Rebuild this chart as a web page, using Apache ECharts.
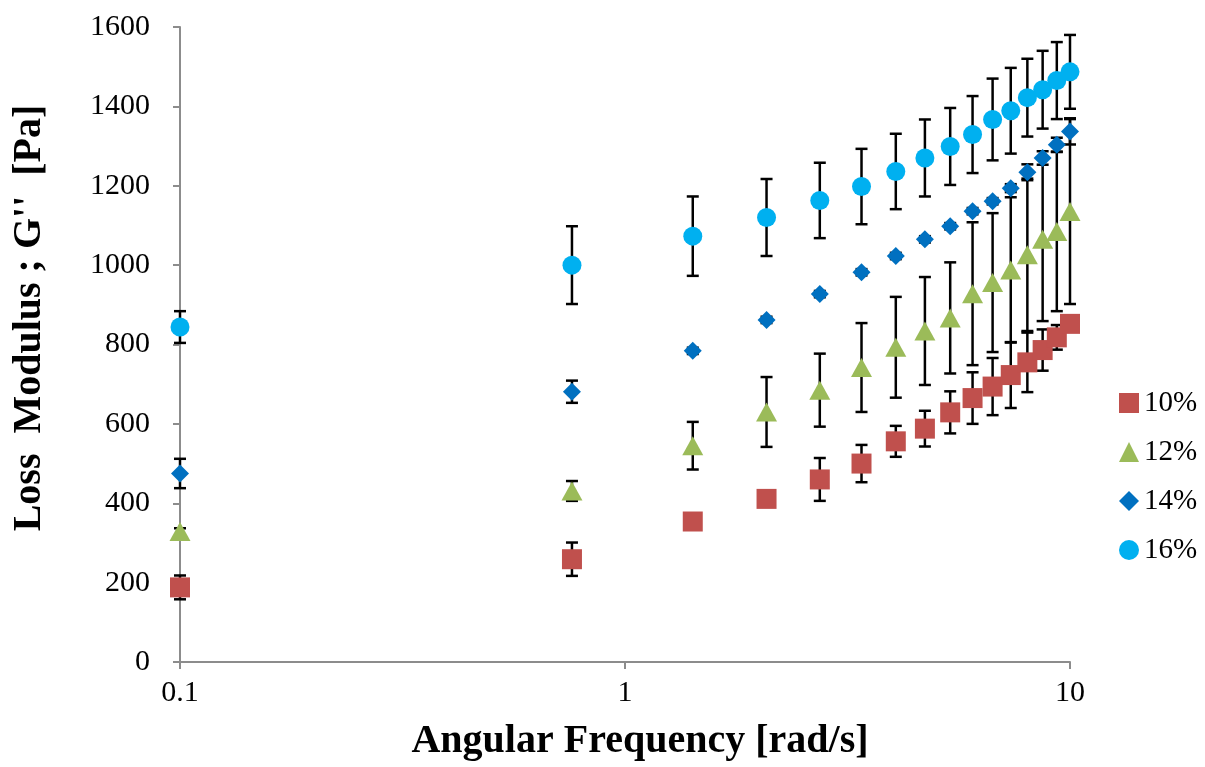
<!DOCTYPE html>
<html>
<head>
<meta charset="utf-8">
<script src="https://cdn.jsdelivr.net/npm/echarts@6/dist/echarts.min.js"></script>
<style>
  html, body { margin: 0; padding: 0; background: #ffffff; }
  #chart { width: 1205px; height: 767px; }
</style>
</head>
<body>
<div id="chart"></div>
<script>
  // angular frequency sweep [rad/s]
  var freq = [0.1, 0.76, 1.42, 2.08, 2.74, 3.4, 4.06, 4.72, 5.38, 6.04, 6.7, 7.36, 8.02, 8.68, 9.34, 10];

  // loss modulus G'' [Pa] and error (+/-) for each concentration
  var g10 = [188, 259, 354, 411, 460, 500, 556, 588, 629, 665, 694, 723, 755, 786, 818, 852];
  var e10 = [30, 42, 10, 8, 54, 47, 39, 45, 53, 65, 72, 83, 75, 52, 31, 10];

  var g12 = [329, 431, 545, 630, 685, 742, 793, 834, 867, 928, 956, 988, 1026, 1065, 1085, 1135];
  var e12 = [8, 25, 60, 88, 92, 112, 127, 136, 140, 180, 175, 183, 192, 206, 201, 233];

  var g14 = [475, 681, 784, 862, 927, 982, 1023, 1065, 1098, 1136, 1161, 1194, 1234, 1270, 1303, 1337];
  var e14 = [37, 28, 8, 8, 8, 8, 8, 8, 8, 8, 8, 10, 20, 17, 18, 33];

  var g16 = [844, 1000, 1073, 1120, 1163, 1198, 1236, 1270, 1299, 1329, 1367, 1389, 1422, 1442, 1465, 1487];
  var e16 = [40, 98, 100, 97, 95, 95, 95, 97, 97, 97, 103, 108, 98, 98, 97, 93];

  var seriesNames = ["10%", "12%", "14%", "16%"];
  var yTicks = [0, 200, 400, 600, 800, 1000, 1200, 1400, 1600];

  var FONT = "'Liberation Serif', 'Times New Roman', serif";
  var AXIS_GRAY = "#8c8c8c";

  function pts(g) {
    return freq.map(function (f, i) { return [f, g[i]]; });
  }
  function errPts(g, e) {
    return freq.map(function (f, i) { return [f, g[i], e[i]]; });
  }

  // vertical error bar with caps
  function renderErr(params, api) {
    var x = api.value(0), y = api.value(1), e = api.value(2);
    var top = api.coord([x, y + e]);
    var bot = api.coord([x, y - e]);
    var hw = 6;
    var st = { stroke: "#000000", lineWidth: 2.5 };
    return {
      type: "group",
      children: [
        { type: "line", shape: { x1: top[0], y1: top[1], x2: bot[0], y2: bot[1] }, style: st },
        { type: "line", shape: { x1: top[0] - hw, y1: top[1], x2: top[0] + hw, y2: top[1] }, style: st },
        { type: "line", shape: { x1: bot[0] - hw, y1: bot[1], x2: bot[0] + hw, y2: bot[1] }, style: st }
      ]
    };
  }

  function errSeries(g, e) {
    return {
      type: "custom",
      name: "err",
      renderItem: renderErr,
      data: errPts(g, e),
      encode: { x: 0, y: 1 },
      clip: false,
      z: 1,
      silent: true
    };
  }

  var myChart = echarts.init(document.getElementById("chart"));

  var option = {
    backgroundColor: "#ffffff",
    animation: false,
    grid: { left: 180, right: 135, top: 27, bottom: 103 },
    xAxis: {
      type: "log",
      logBase: 10,
      min: 0.1,
      max: 10,
      axisLine: { show: true, lineStyle: { color: AXIS_GRAY, width: 2 } },
      axisTick: { show: true, inside: false, length: 7, lineStyle: { color: AXIS_GRAY, width: 2 } },
      minorTick: { show: false },
      splitLine: { show: false },
      axisLabel: {
        margin: 16,
        color: "#000000",
        fontFamily: FONT,
        fontSize: 30,
        formatter: function (v) { return String(Math.round(v * 10) / 10); }
      },
      name: "Angular Frequency [rad/s]",
      nameLocation: "middle",
      nameGap: 60,
      nameTextStyle: {
        color: "#000000", fontFamily: FONT, fontSize: 40, fontWeight: "bold",
        padding: [0, 0, 0, 30]
      }
    },
    yAxis: {
      type: "value",
      min: yTicks[0],
      max: yTicks[yTicks.length - 1],
      interval: 200,
      axisLine: { show: true, lineStyle: { color: AXIS_GRAY, width: 2 } },
      axisTick: { show: true, inside: false, length: 7, lineStyle: { color: AXIS_GRAY, width: 2 } },
      splitLine: { show: false },
      axisLabel: {
        margin: 30,
        color: "#000000",
        fontFamily: FONT,
        fontSize: 30,
        formatter: function (v) { return String(v); }
      }
    },
    graphic: [
      {
        type: "text",
        x: 30,
        y: 318,
        rotation: Math.PI / 2,
        style: {
          text: "Loss  Modulus ; G''  [Pa]",
          fill: "#000000",
          font: "bold 40px " + FONT,
          textAlign: "center",
          textVerticalAlign: "middle"
        }
      }
    ],
    legend: {
      orient: "vertical",
      left: 1114,
      top: 383,
      data: seriesNames,
      itemWidth: 20,
      itemHeight: 20,
      itemGap: 19,
      textStyle: { color: "#000000", fontFamily: FONT, fontSize: 29, lineHeight: 30 }
    },
    series: [
      errSeries(g10, e10),
      errSeries(g12, e12),
      errSeries(g14, e14),
      errSeries(g16, e16),
      {
        type: "scatter", name: seriesNames[0], data: pts(g10),
        symbol: "rect", symbolSize: 20, clip: false, z: 3,
        itemStyle: { color: "#C0504D", opacity: 1 }
      },
      {
        type: "scatter", name: seriesNames[1], data: pts(g12),
        symbol: "triangle", symbolSize: [21, 19], clip: false, z: 3,
        itemStyle: { color: "#9BBB59", opacity: 1 }
      },
      {
        type: "scatter", name: seriesNames[2], data: pts(g14),
        symbol: "diamond", symbolSize: 18, clip: false, z: 3,
        itemStyle: { color: "#0070C0", opacity: 1 }
      },
      {
        type: "scatter", name: seriesNames[3], data: pts(g16),
        symbol: "circle", symbolSize: 19, clip: false, z: 3,
        itemStyle: { color: "#00B0F0", opacity: 1 }
      }
    ]
  };

  myChart.setOption(option);
</script>
</body>
</html>
